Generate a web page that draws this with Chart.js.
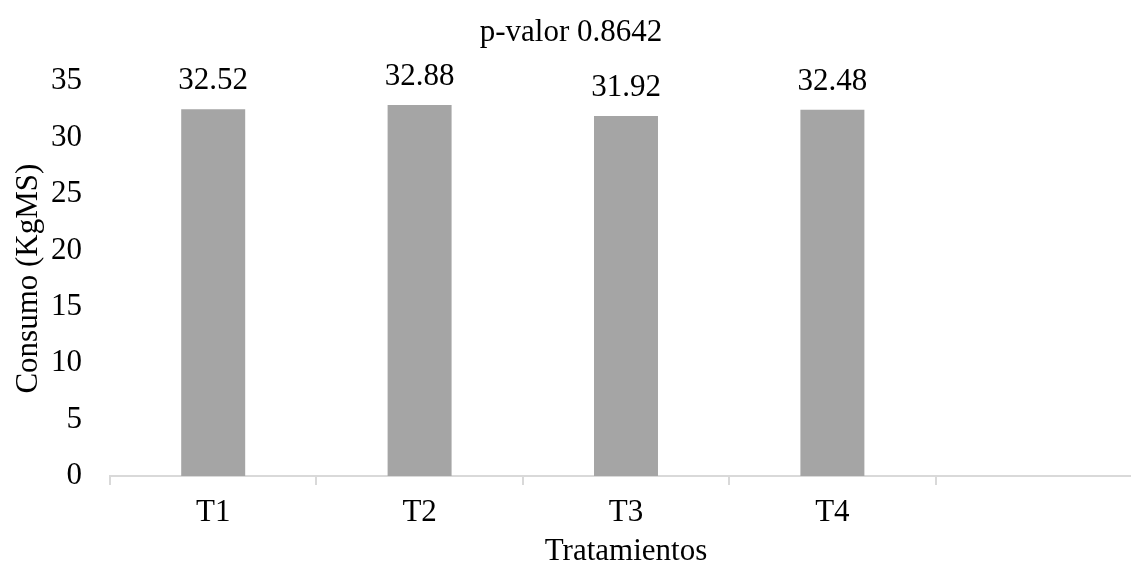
<!DOCTYPE html>
<html>
<head>
<meta charset="utf-8">
<script src="https://cdn.jsdelivr.net/npm/chart.js@4/dist/chart.umd.min.js"></script>
<style>
  html, body { margin: 0; padding: 0; background: #fff; overflow: hidden; }
  #wrap { width: 1142px; height: 570px; }
</style>
</head>
<body>
<div id="wrap"><canvas id="chart" width="1142" height="570"></canvas></div>
<script>
// Consumo de materia seca por tratamiento
const categories = ['T1', 'T2', 'T3', 'T4', ''];
const consumo = [32.52, 32.88, 31.92, 32.48, null];
const yTicks = [0, 5, 10, 15, 20, 25, 30, 35];
const chartTitle = 'p-valor 0.8642';
const xTitle = 'Tratamientos';
const yTitle = 'Consumo (KgMS)';

const FONT = "'Liberation Serif', 'Times New Roman', serif";
const TXT = '#000000';

// Writes each bar's value just above it
const valueLabels = {
  id: 'valueLabels',
  afterDatasetsDraw(chart) {
    const ctx = chart.ctx;
    const meta = chart.getDatasetMeta(0);
    ctx.save();
    ctx.font = '31px ' + FONT;
    ctx.fillStyle = TXT;
    ctx.textAlign = 'center';
    ctx.textBaseline = 'alphabetic';
    meta.data.forEach((bar, i) => {
      const v = consumo[i];
      if (v === null || v === undefined) return;
      ctx.fillText(v.toFixed(2), bar.x, bar.y - 20);
    });
    ctx.restore();
  }
};

new Chart(document.getElementById('chart'), {
  type: 'bar',
  data: {
    labels: categories,
    datasets: [{
      data: consumo,
      backgroundColor: '#A5A5A5',
      borderWidth: 0,
      barPercentage: 0.31,
      categoryPercentage: 1
    }]
  },
  options: {
    responsive: false,
    devicePixelRatio: 1,
    animation: false,
    events: [],
    layout: { padding: { left: 0, right: 0, top: 0, bottom: 0 } },
    plugins: {
      legend: { display: false },
      tooltip: { enabled: false },
      title: {
        display: true,
        text: chartTitle,
        color: TXT,
        font: { family: FONT, size: 31, weight: 'normal', lineHeight: 1.2 },
        padding: { top: 14, bottom: 30 }
      }
    },
    scales: {
      x: {
        grid: {
          display: true,
          offset: true,
          drawOnChartArea: false,
          drawTicks: true,
          tickLength: 9,
          color: '#D9D9D9',
          lineWidth: 2
        },
        border: { display: true, color: '#D9D9D9', width: 2 },
        ticks: {
          color: TXT,
          padding: 9,
          maxRotation: 0,
          font: { family: FONT, size: 31, lineHeight: 1.2 }
        },
        title: {
          display: true,
          text: xTitle,
          color: TXT,
          padding: { top: 0, bottom: 0 },
          font: { family: FONT, size: 31, lineHeight: 1.2 }
        },
        afterFit(scale) { scale.height = 94; }
      },
      y: {
        min: 0,
        max: 35,
        afterBuildTicks(scale) { scale.ticks = yTicks.map(v => ({ value: v })); },
        grid: { display: false, drawTicks: false },
        border: { display: false },
        ticks: {
          color: TXT,
          padding: 28,
          font: { family: FONT, size: 31, lineHeight: 1.2 }
        },
        title: {
          display: true,
          text: yTitle,
          color: TXT,
          padding: { top: 10, bottom: 0 },
          font: { family: FONT, size: 31, lineHeight: 1.2 }
        },
        afterFit(scale) { scale.width = 110; }
      }
    }
  },
  plugins: [valueLabels]
});
</script>
</body>
</html>
